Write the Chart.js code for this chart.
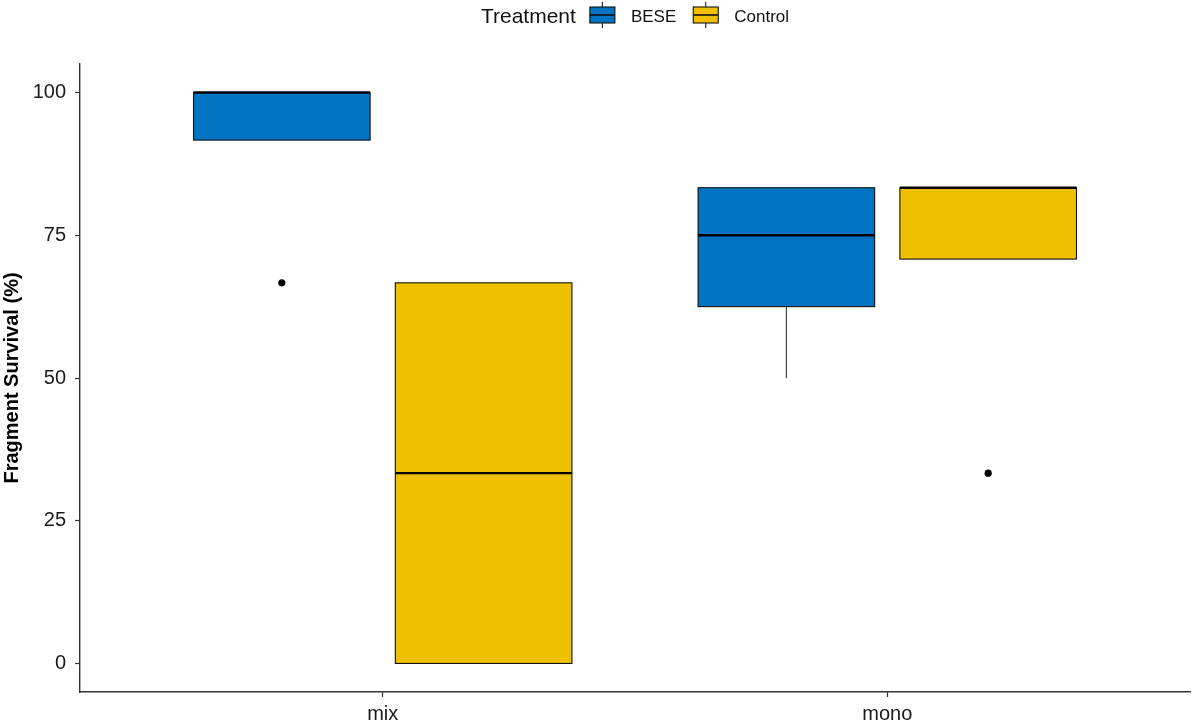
<!DOCTYPE html>
<html>
<head>
<meta charset="utf-8">
<script src="https://cdn.jsdelivr.net/npm/chart.js@4/dist/chart.umd.min.js"></script>
<style>
  html, body { margin: 0; padding: 0; background: #fff; }
  canvas { display: block; }
</style>
</head>
<body>
<canvas id="chart" width="1194" height="726"></canvas>
<script>
const categories = ["mix", "mono"];
const treatments = ["BESE", "Control"];
const treatmentColors = ["#0073C2", "#EFC000"];
const yTicks = [0, 25, 50, 75, 100];

// five-number summaries per category (mix, mono)
const beseLow = [91.67, 50];
const beseQ1 = [91.67, 62.5];
const beseMedian = [100, 75];
const beseQ3 = [100, 83.33];
const beseHigh = [100, 83.33];
const beseOutliers = [[66.67], []];

const controlLow = [0, 70.83];
const controlQ1 = [0, 70.83];
const controlMedian = [33.33, 83.33];
const controlQ3 = [66.67, 83.33];
const controlHigh = [66.67, 83.33];
const controlOutliers = [[], [33.33]];

const groups = [
  { low: beseLow, q1: beseQ1, median: beseMedian, q3: beseQ3, high: beseHigh, outliers: beseOutliers },
  { low: controlLow, q1: controlQ1, median: controlMedian, q3: controlQ3, high: controlHigh, outliers: controlOutliers }
];

const dodge = [-0.2, 0.2];
const halfWidth = 0.175;
const FONT = '"Liberation Sans", Arial, sans-serif';

// boxes, whiskers and medians go under the outlier points
const boxPlugin = {
  id: "boxes",
  beforeDatasetsDraw(chart) {
    const { ctx, scales: { x, y } } = chart;
    ctx.save();
    groups.forEach((g, gi) => {
      categories.forEach((c, ci) => {
        const cx = ci + 1 + dodge[gi];
        const left = x.getPixelForValue(cx - halfWidth);
        const right = x.getPixelForValue(cx + halfWidth);
        const mid = x.getPixelForValue(cx);
        const top = y.getPixelForValue(g.q3[ci]);
        const bottom = y.getPixelForValue(g.q1[ci]);

        ctx.strokeStyle = "#333";
        ctx.lineWidth = 1.1;
        ctx.beginPath();
        ctx.moveTo(mid, top);
        ctx.lineTo(mid, y.getPixelForValue(g.high[ci]));
        ctx.moveTo(mid, bottom);
        ctx.lineTo(mid, y.getPixelForValue(g.low[ci]));
        ctx.stroke();

        ctx.fillStyle = treatmentColors[gi];
        ctx.fillRect(left, top, right - left, bottom - top);
        ctx.strokeStyle = "#111";
        ctx.lineWidth = 1.1;
        ctx.strokeRect(left, top, right - left, bottom - top);

        const my = y.getPixelForValue(g.median[ci]);
        ctx.strokeStyle = "#000";
        ctx.lineWidth = 2.4;
        ctx.beginPath();
        ctx.moveTo(left, my);
        ctx.lineTo(right, my);
        ctx.stroke();
      });
    });
    ctx.restore();
  }
};

// legend row at the top: title, then a small boxplot key per treatment
const legendPlugin = {
  id: "boxLegend",
  afterDraw(chart) {
    const { ctx, chartArea } = chart;
    const keyW = 25, keyTop = 7, keyBottom = 23, whiskTop = 2, whiskBottom = 28;
    ctx.save();
    ctx.font = "21px " + FONT;
    const titleW = ctx.measureText("Treatment").width;
    ctx.font = "17px " + FONT;
    const labelW = treatments.map(t => ctx.measureText(t).width);
    const total = titleW + 14 + labelW.reduce((s, w) => s + keyW + 16 + w, 0) + 17 * (treatments.length - 1);
    let px = (chartArea.left + chartArea.right) / 2 - total / 2;

    ctx.fillStyle = "#111";
    ctx.textBaseline = "alphabetic";
    ctx.font = "21px " + FONT;
    ctx.fillText("Treatment", px, 22.5);
    px += titleW + 14;

    treatments.forEach((t, i) => {
      const mid = px + keyW / 2;
      ctx.strokeStyle = "#222";
      ctx.lineWidth = 1.1;
      ctx.beginPath();
      ctx.moveTo(mid, whiskTop);
      ctx.lineTo(mid, whiskBottom);
      ctx.stroke();
      ctx.fillStyle = treatmentColors[i];
      ctx.fillRect(px, keyTop, keyW, keyBottom - keyTop);
      ctx.strokeStyle = "#111";
      ctx.strokeRect(px, keyTop, keyW, keyBottom - keyTop);
      ctx.lineWidth = 1.6;
      ctx.beginPath();
      ctx.moveTo(px, (keyTop + keyBottom) / 2);
      ctx.lineTo(px + keyW, (keyTop + keyBottom) / 2);
      ctx.stroke();
      px += keyW + 16;
      ctx.fillStyle = "#111";
      ctx.font = "17px " + FONT;
      ctx.fillText(t, px, 21.5);
      px += labelW[i] + 17;
    });
    ctx.restore();
  }
};

const outlierSets = groups.map((g, gi) => ({
  label: treatments[gi] + " outliers",
  data: g.outliers.flatMap((vals, ci) => vals.map(v => ({ x: ci + 1 + dodge[gi], y: v }))),
  pointRadius: 3.6,
  pointBackgroundColor: "#000",
  pointBorderWidth: 0
}));

new Chart(document.getElementById("chart"), {
  type: "scatter",
  data: { datasets: outlierSets },
  plugins: [boxPlugin, legendPlugin],
  options: {
    responsive: false,
    animation: false,
    layout: { padding: { top: 64, right: 2, left: 0, bottom: 0 } },
    plugins: { legend: { display: false }, tooltip: { enabled: false } },
    scales: {
      x: {
        type: "linear",
        min: 0.4,
        max: 2.6,
        afterBuildTicks: s => { s.ticks = categories.map((c, i) => ({ value: i + 1 })); },
        afterFit: s => { s.height = 34; },
        ticks: {
          callback: v => categories[v - 1],
          font: { family: FONT, size: 20 },
          color: "#1a1a1a",
          padding: 5,
          maxRotation: 0
        },
        grid: { drawOnChartArea: false, drawTicks: true, tickLength: 5, tickColor: "#333", tickWidth: 1.2 },
        border: { display: true, color: "#333", width: 1.4 }
      },
      y: {
        type: "linear",
        min: -5,
        max: 105,
        afterBuildTicks: s => { s.ticks = yTicks.map(v => ({ value: v })); },
        afterFit: s => { s.width = 80; },
        ticks: {
          font: { family: FONT, size: 20 },
          color: "#1a1a1a",
          padding: 9
        },
        grid: { drawOnChartArea: false, drawTicks: true, tickLength: 5, tickColor: "#333", tickWidth: 1.2 },
        border: { display: true, color: "#333", width: 1.4 },
        title: {
          display: true,
          text: "Fragment Survival (%)",
          font: { family: FONT, size: 20, weight: "bold" },
          color: "#000",
          padding: 0
        }
      }
    }
  }
});
</script>
</body>
</html>
